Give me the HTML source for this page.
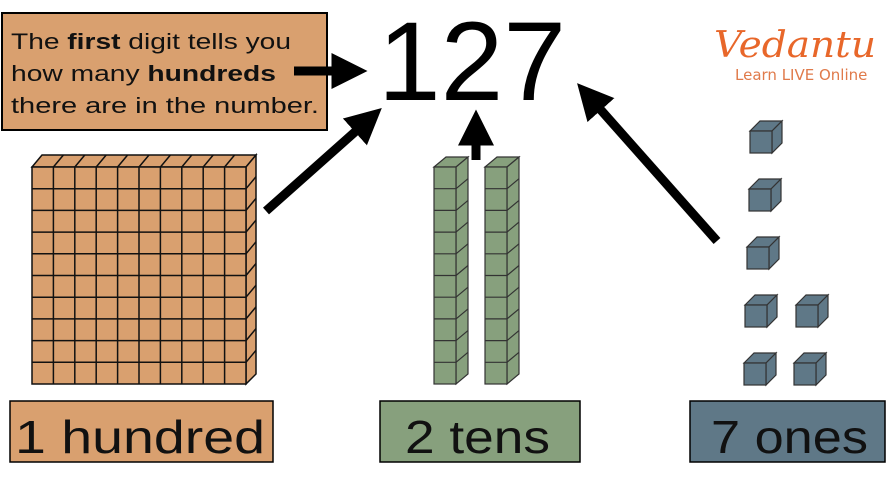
<!DOCTYPE html>
<html><head><style>body{margin:0;background:#fff}svg{display:block}</style></head><body>
<svg width="887" height="480" viewBox="0 0 887 480" xmlns="http://www.w3.org/2000/svg" font-family="'DejaVu Sans','Liberation Sans',sans-serif">
<defs>
<marker id="ah" markerWidth="4" markerHeight="4" refX="1.5" refY="2" orient="auto" markerUnits="strokeWidth"><path d="M0,0 L4,2 L0,4 z" fill="#000"/></marker>
<g id="cube">
<polygon points="0,0 10,-10 32,-10 22,0"/>
<polygon points="22,0 32,-10 32,12 22,22"/>
<rect x="0" y="0" width="22" height="22"/>
</g>
</defs>
<rect x="2" y="13" width="325" height="117" fill="#d9a06f" stroke="#000" stroke-width="2"/>
<text font-size="22" fill="#111" font-family="'Liberation Sans',sans-serif"><tspan x="11" y="49" textLength="280" lengthAdjust="spacingAndGlyphs">The <tspan font-weight="bold">first</tspan> digit tells you</tspan><tspan x="11" y="81" textLength="265" lengthAdjust="spacingAndGlyphs">how many <tspan font-weight="bold">hundreds</tspan></tspan><tspan x="11" y="113" textLength="308" lengthAdjust="spacingAndGlyphs">there are in the number.</tspan></text>
<text x="378" y="100" font-size="112" font-family="'Liberation Sans',sans-serif" fill="#000" textLength="188" lengthAdjust="spacingAndGlyphs">127</text>
<g fill="none" stroke="#000" stroke-width="9">
<line x1="294" y1="71" x2="345" y2="71" marker-end="url(#ah)"/>
<line x1="266" y1="211" x2="365" y2="123" marker-end="url(#ah)"/>
<line x1="476" y1="160" x2="476" y2="132" marker-end="url(#ah)"/>
<line x1="717" y1="241" x2="592" y2="100" marker-end="url(#ah)"/>
</g>
<g stroke="#111" stroke-width="1.5">
<polygon points="32,167 42,155 256,155 246,167" fill="#d9a06f"/>
<polygon points="246,167 256,155 256,374 246,384" fill="#d9a06f"/>
<rect x="32" y="167" width="214" height="217" fill="#d9a06f"/>
<path d="M53.4,167V384M74.8,167V384M96.2,167V384M117.6,167V384M139,167V384M160.4,167V384M181.8,167V384M203.2,167V384M224.6,167V384
M32,188.7H246M32,210.4H246M32,232.1H246M32,253.8H246M32,275.5H246M32,297.2H246M32,318.9H246M32,340.6H246M32,362.3H246
M53.4,167L63.4,155M74.8,167L84.8,155M96.2,167L106.2,155M117.6,167L127.6,155M139,167L149,155M160.4,167L170.4,155M181.8,167L191.8,155M203.2,167L213.2,155M224.6,167L234.6,155
M246,188.7L256,176.7M246,210.4L256,198.4M246,232.1L256,220.1M246,253.8L256,241.8M246,275.5L256,263.5M246,297.2L256,285.2M246,318.9L256,306.9M246,340.6L256,328.6M246,362.3L256,350.3" fill="none"/>
</g>
<g stroke="#333" stroke-width="1.2" fill="#87a07d">
<g id="rod">
<polygon points="434,167 446,157 468,157 456,167"/>
<polygon points="456,167 468,157 468,374 456,384"/>
<rect x="434" y="167" width="22" height="217"/>
<path fill="none" d="M434,188.7H456M434,210.4H456M434,232.1H456M434,253.8H456M434,275.5H456M434,297.2H456M434,318.9H456M434,340.6H456M434,362.3H456
M456,188.7L468,178.7M456,210.4L468,200.4M456,232.1L468,222.1M456,253.8L468,243.8M456,275.5L468,265.5M456,297.2L468,287.2M456,318.9L468,308.9M456,340.6L468,330.6M456,362.3L468,352.3"/>
</g>
<use href="#rod" x="51"/>
</g>
<g stroke="#333" stroke-width="1.2" fill="#5f7887">
<use href="#cube" x="750" y="131"/>
<use href="#cube" x="749" y="189"/>
<use href="#cube" x="747" y="247"/>
<use href="#cube" x="745" y="305"/>
<use href="#cube" x="796" y="305"/>
<use href="#cube" x="744" y="363"/>
<use href="#cube" x="794" y="363"/>
</g>
<text x="714" y="57" font-size="36" fill="#e8672a" font-family="'DejaVu Serif',serif" font-style="italic" textLength="162" lengthAdjust="spacingAndGlyphs">Vedantu</text>
<text x="735" y="80" font-size="15" fill="#e07a4a">Learn LIVE Online</text>
<rect x="10" y="401" width="263" height="61" fill="#d9a06f" stroke="#000" stroke-width="1.5"/>
<text x="15" y="453" font-size="46" fill="#111" font-family="'Liberation Sans',sans-serif" textLength="250" lengthAdjust="spacingAndGlyphs">1 hundred</text>
<rect x="380" y="401" width="200" height="61" fill="#87a07d" stroke="#000" stroke-width="1.5"/>
<text x="405" y="453" font-size="46" fill="#111" font-family="'Liberation Sans',sans-serif" textLength="145" lengthAdjust="spacingAndGlyphs">2 tens</text>
<rect x="690" y="401" width="195" height="61" fill="#5f7887" stroke="#000" stroke-width="1.5"/>
<text x="711" y="453" font-size="46" fill="#111" font-family="'Liberation Sans',sans-serif" textLength="157" lengthAdjust="spacingAndGlyphs">7 ones</text>
</svg>
</body></html>
